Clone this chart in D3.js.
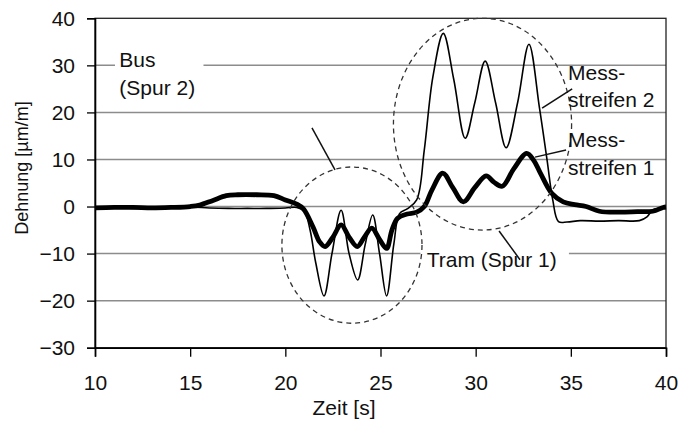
<!DOCTYPE html>
<html>
<head>
<meta charset="utf-8">
<script src="https://cdn.jsdelivr.net/npm/d3@7"></script>
<style>
body{margin:0;background:#fff;}
svg{font-family:"Liberation Sans", Arial, sans-serif;}
</style>
</head>
<body>
<div id="chart" style="width:682px;height:427px;"></div>
<script>
const x_ticks = [10, 15, 20, 25, 30, 35, 40];
const y_ticks = [-30, -20, -10, 0, 10, 20, 30, 40];

// Messstreifen 1 (dicke Linie)
const ms1_t = [10, 11, 12, 13, 14, 15, 15.5, 16.2, 16.9, 17.5, 18.5, 19.4, 20.0, 20.6, 20.95, 21.45, 21.8, 22.09, 22.5, 22.93, 23.35, 23.78, 24.15, 24.54, 24.95, 25.32, 25.6, 25.9, 26.4, 26.9, 27.3, 27.7, 28.27, 28.8, 29.35, 29.95, 30.55, 30.95, 31.4, 32.0, 32.68, 33.05, 33.4, 34.0, 34.6, 35.2, 35.8, 36.5, 37.5, 38.5, 39.3, 39.85, 40];
const ms1_v = [-0.3, -0.2, -0.2, -0.3, -0.2, 0, 0.3, 1.3, 2.3, 2.5, 2.5, 2.3, 1.4, 0.5, -0.5, -4.3, -7.5, -8.5, -6.5, -3.9, -6.5, -8.5, -6.5, -4.6, -7.0, -8.9, -5.0, -2.5, -1.6, -1.2, 0, 3.5, 7.1, 4.0, 1.0, 4.0, 6.5, 5.2, 4.3, 8.0, 11.3, 9.8, 7.1, 2.8, 1.0, 0.4, 0, -1.0, -1.2, -1.1, -1.0, -0.2, -0.1];

// Messstreifen 2 (duenne Linie)
const ms2_t = [10, 11, 12, 13, 14, 15, 16, 17, 18, 19, 20, 20.6, 21.0, 21.3, 21.6, 22.03, 22.45, 22.93, 23.35, 23.8, 24.2, 24.59, 24.95, 25.32, 25.7, 26.0, 26.4, 26.9, 27.3, 27.75, 28.3, 28.85, 29.45, 29.95, 30.5, 31.05, 31.6, 32.2, 32.8, 33.35, 33.75, 34.05, 34.35, 34.8, 35.5, 36.5, 37.5, 38.6, 39.0, 39.3, 39.7, 40];
const ms2_v = [-0.3, -0.2, -0.4, -0.2, -0.3, -0.1, -0.3, -0.4, -0.4, -0.4, -0.3, -0.2, -1.0, -5, -12, -19.0, -10, -0.8, -10, -15.6, -8, -1.8, -10, -19.0, -8, -1.5, -0.5, 1.4, 12, 27.5, 36.8, 27, 14.5, 22, 30.9, 22, 12.5, 22, 34.5, 21, 9.9, 1.4, -3.2, -3.3, -3.0, -3.1, -3.0, -3.0, -2.2, -0.7, -0.4, -0.3];

class StrainChart {

    constructor(div_id){
        this.svg = d3.select(div_id).append("svg").attr("width", 682).attr("height", 427);
        this.margin = {top: 18.3, right: 16, bottom: 79.3, left: 95};
        this.width = 682 - this.margin.left - this.margin.right;
        this.height = 427 - this.margin.top - this.margin.bottom;
    }

    draw(){
        this.build_axis();
        this.draw_notes_bg();
        this.draw_lines();
        this.draw_notes();
    }

    build_axis(){
        const m = this.margin;
        this.xScale = d3.scaleLinear().domain([10, 40]).range([m.left, m.left + this.width]);
        this.yScale = d3.scaleLinear().domain([-30, 40]).range([m.top + this.height, m.top]);

        // Gitterlinien
        this.svg.append("g").selectAll("line")
            .data(y_ticks.filter(d => d > -30 && d < 40))
            .enter().append("line")
            .attr("x1", m.left).attr("x2", m.left + this.width)
            .attr("y1", d => this.yScale(d)).attr("y2", d => this.yScale(d))
            .attr("stroke", "#8c8c8c").attr("stroke-width", 1.5);

        // Rahmen
        this.svg.append("rect")
            .attr("x", m.left).attr("y", m.top)
            .attr("width", this.width).attr("height", this.height)
            .attr("fill", "none").attr("stroke", "#222").attr("stroke-width", 1.3);

        const xAxis = d3.axisBottom(this.xScale).tickValues(x_ticks).tickSize(9).tickPadding(18).tickFormat(d3.format("d"));
        const yAxis = d3.axisLeft(this.yScale).tickValues(y_ticks).tickSize(8).tickPadding(12).tickFormat(d3.format("d"));

        const gx = this.svg.append("g")
            .attr("transform", `translate(0,${m.top + this.height})`)
            .call(xAxis);
        const gy = this.svg.append("g")
            .attr("transform", `translate(${m.left},0)`)
            .call(yAxis);

        for (const g of [gx, gy]){
            g.selectAll("path").attr("stroke", "#000").attr("stroke-width", 1.6);
            g.selectAll("line").attr("stroke", "#000").attr("stroke-width", 1.3);
            g.selectAll("text").attr("fill", "#111").style("font-size", "21px");
        }

        this.svg.append("text")
            .attr("x", 344)
            .attr("y", 415)
            .style("text-anchor", "middle")
            .style("font-size", "21px")
            .attr("fill", "#111")
            .text("Zeit [s]");

        this.svg.append("text")
            .attr("transform", "translate(28,168) rotate(-90)")
            .style("text-anchor", "middle")
            .style("font-size", "18px")
            .attr("fill", "#111")
            .text("Dehnung [µm/m]");
    }

    draw_notes_bg(){
        const x = this.xScale, y = this.yScale;
        // weisse Textfelder decken Gitterlinien ab
        this.svg.append("rect")
            .attr("x", x(11.05)).attr("y", y(34.5))
            .attr("width", x(15.7) - x(11.05)).attr("height", y(22) - y(34.5))
            .attr("fill", "#fff");
        this.svg.append("rect")
            .attr("x", x(27.1)).attr("y", y(-8.5))
            .attr("width", x(34.9) - x(27.1)).attr("height", y(-13.5) - y(-8.5))
            .attr("fill", "#fff");
    }

    draw_lines(){
        const line = d3.line()
            .x(d => this.xScale(d[0]))
            .y(d => this.yScale(d[1]))
            .curve(d3.curveCatmullRom.alpha(0.5));

        const ms2 = ms2_t.map((t, i) => [t, ms2_v[i]]);
        const ms1 = ms1_t.map((t, i) => [t, ms1_v[i]]);

        this.svg.append("path").datum(ms2)
            .attr("d", line)
            .attr("fill", "none").attr("stroke", "#000").attr("stroke-width", 1.6);

        this.svg.append("path").datum(ms1)
            .attr("d", line)
            .attr("fill", "none").attr("stroke", "#000").attr("stroke-width", 4.8)
            .attr("stroke-linejoin", "round");
    }

    draw_notes(){
        const x = this.xScale, y = this.yScale;
        const ell = (ct, cv, rt, rv) => this.svg.append("ellipse")
            .attr("cx", x(ct)).attr("cy", y(cv))
            .attr("rx", x(ct + rt) - x(ct)).attr("ry", y(cv - rv) - y(cv))
            .attr("fill", "none").attr("stroke", "#333")
            .attr("stroke-width", 1.3).attr("stroke-dasharray", "5,4");
        ell(30.36, 17.5, 4.68, 22.5);
        ell(23.5, -8.2, 3.68, 16.6);

        const leaders = [
            [21.4, 16.7, 22.61, 7.8],
            [31.23, -5.2, 32.33, -11.3],
            [33.49, 20.9, 35.07, 25.0],
            [33.12, 10.5, 34.75, 12.0]
        ];
        this.svg.append("g").selectAll("line")
            .data(leaders)
            .enter().append("line")
            .attr("x1", d => x(d[0])).attr("y1", d => y(d[1]))
            .attr("x2", d => x(d[2])).attr("y2", d => y(d[3]))
            .attr("stroke", "#111").attr("stroke-width", 1.5);

        const notes = [
            ["Bus", 11.28, 29.7],
            ["(Spur 2)", 11.28, 23.6],
            ["Mess-", 34.85, 26.9],
            ["streifen 2", 34.85, 21.1],
            ["Mess-", 34.85, 12.7],
            ["streifen 1", 34.85, 6.7],
            ["Tram (Spur 1)", 27.43, -12.8]
        ];
        this.svg.append("g").selectAll("text")
            .data(notes)
            .enter().append("text")
            .attr("x", d => x(d[1])).attr("y", d => y(d[2]))
            .style("font-size", "21px")
            .attr("fill", "#111")
            .text(d => d[0]);
    }
}

const chart = new StrainChart("#chart");
chart.draw();
</script>
</body>
</html>
